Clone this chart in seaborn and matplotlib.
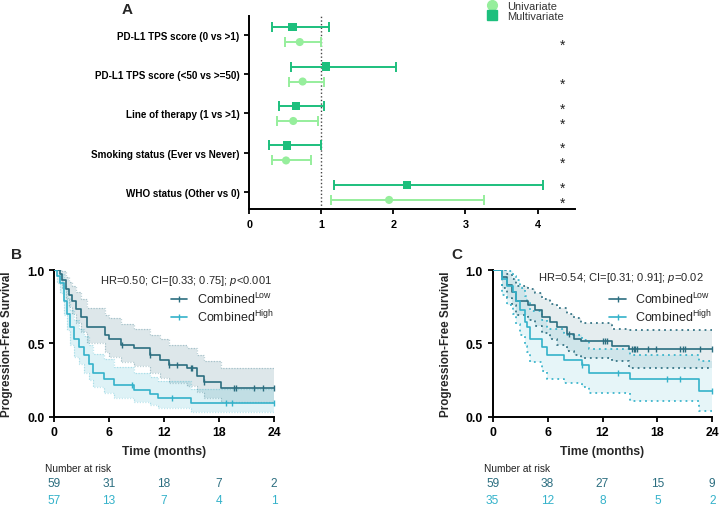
import numpy as np
import pandas as pd
import matplotlib
matplotlib.use("Agg")
import matplotlib.pyplot as plt
import matplotlib.transforms as mtransforms
from matplotlib.lines import Line2D
import seaborn as sns

# ── Panel A: forest plot data ────────────────────────────────────────────────
factors = [
    "PD-L1 TPS score (0 vs >1)",
    "PD-L1 TPS score (<50 vs >=50)",
    "Line of therapy (1 vs >1)",
    "Smoking status (Ever vs Never)",
    "WHO status (Other vs 0)",
]
uni_hr = [0.70, 0.74, 0.61, 0.51, 1.94]
uni_lo = [0.50, 0.55, 0.39, 0.32, 1.14]
uni_hi = [1.00, 1.04, 0.96, 0.85, 3.26]
uni_sig = [True, True, True, True, True]
multi_hr = [0.60, 1.07, 0.65, 0.52, 2.19]
multi_lo = [0.32, 0.575, 0.41, 0.27, 1.18]
multi_hi = [1.11, 2.03, 1.04, 0.99, 4.08]
multi_sig = [False, False, True, True, True]

# ── Panel B: Kaplan-Meier ────────────────────────────────────────────────────
b_low_t = [0, 0.6, 0.9, 1.27, 1.64, 2.0, 2.36, 2.9, 3.6, 5.6, 6.0, 7.3, 8.7, 10.5, 11.6, 12.5, 14.5, 15.6, 16.4, 18.2, 24]
b_low_s = [1.0, 0.97, 0.93, 0.87, 0.83, 0.79, 0.735, 0.68, 0.61, 0.555, 0.53, 0.49, 0.465, 0.42, 0.385, 0.35, 0.33, 0.28, 0.235, 0.197, 0.197]
b_low_lo = [1.0, 0.93, 0.87, 0.80, 0.75, 0.70, 0.64, 0.58, 0.50, 0.44, 0.41, 0.37, 0.345, 0.30, 0.265, 0.23, 0.21, 0.17, 0.13, 0.10, 0.10]
b_low_hi = [1.0, 1.0, 0.99, 0.95, 0.92, 0.89, 0.85, 0.80, 0.74, 0.69, 0.67, 0.63, 0.60, 0.56, 0.53, 0.49, 0.47, 0.42, 0.38, 0.33, 0.33]
b_low_cens = [7.45, 10.5, 12.5, 13.45, 14.9, 15.1, 16.4, 19.6, 19.9, 21.8, 22.8, 24.0]

b_high_t = [0, 0.35, 0.65, 1.1, 1.45, 1.75, 2.2, 2.7, 3.3, 3.8, 4.3, 5.45, 6.5, 8.7, 10.5, 11.3, 14.9, 24]
b_high_s = [1.0, 0.96, 0.91, 0.79, 0.70, 0.61, 0.53, 0.475, 0.42, 0.36, 0.30, 0.26, 0.215, 0.18, 0.155, 0.125, 0.09, 0.09]
b_high_lo = [1.0, 0.91, 0.84, 0.69, 0.59, 0.49, 0.41, 0.36, 0.30, 0.25, 0.20, 0.16, 0.13, 0.10, 0.08, 0.06, 0.03, 0.03]
b_high_hi = [1.0, 1.0, 0.97, 0.89, 0.81, 0.73, 0.66, 0.60, 0.55, 0.49, 0.43, 0.39, 0.34, 0.30, 0.27, 0.24, 0.19, 0.19]
b_high_cens = [8.5, 12.9, 18.8, 19.4, 24.0]

b_risk_low = [59, 31, 18, 7, 2]
b_risk_high = [57, 13, 7, 4, 1]
b_stats = "HR=0.50; CI=[0.33; 0.75]; $\\mathit{p}$<0.001"

# ── Panel C: Kaplan-Meier ────────────────────────────────────────────────────
c_low_t = [0, 1.0, 1.56, 2.1, 2.5, 3.9, 4.66, 5.4, 6.3, 7.0, 8.1, 8.85, 9.6, 13.0, 14.9, 24]
c_low_s = [1.0, 0.95, 0.895, 0.85, 0.79, 0.76, 0.725, 0.68, 0.645, 0.61, 0.565, 0.53, 0.515, 0.485, 0.462, 0.462]
c_low_lo = [1.0, 0.88, 0.81, 0.76, 0.69, 0.66, 0.62, 0.57, 0.53, 0.49, 0.45, 0.42, 0.40, 0.38, 0.335, 0.335]
c_low_hi = [1.0, 1.0, 0.97, 0.94, 0.89, 0.87, 0.84, 0.80, 0.77, 0.74, 0.70, 0.67, 0.64, 0.60, 0.59, 0.59]
c_low_cens = [8.3, 12.1, 12.3, 12.5, 15.2, 15.4, 15.6, 15.8, 17.0, 17.9, 20.5, 20.8, 21.0, 22.7, 24.0]

c_high_t = [0, 1.0, 1.56, 2.2, 2.5, 3.0, 3.5, 3.75, 4.1, 5.4, 5.9, 7.75, 9.8, 10.5, 15.0, 22.5, 24]
c_high_s = [1.0, 0.94, 0.89, 0.85, 0.79, 0.725, 0.645, 0.61, 0.53, 0.475, 0.42, 0.385, 0.35, 0.30, 0.255, 0.175, 0.175]
c_high_lo = [1.0, 0.83, 0.76, 0.70, 0.63, 0.56, 0.48, 0.44, 0.37, 0.31, 0.26, 0.23, 0.20, 0.16, 0.11, 0.04, 0.04]
c_high_hi = [1.0, 1.0, 0.99, 0.96, 0.93, 0.88, 0.82, 0.79, 0.72, 0.66, 0.60, 0.56, 0.52, 0.46, 0.42, 0.38, 0.38]
c_high_cens = [9.8, 13.7, 19.1, 20.5, 24.0]

c_risk_low = [59, 38, 27, 15, 9]
c_risk_high = [35, 12, 8, 5, 2]
c_stats = "HR=0.54; CI=[0.31; 0.91]; $\\mathit{p}$=0.02"

time_ticks = [0, 6, 12, 18, 24]

# ── Style ────────────────────────────────────────────────────────────────────
UNI_C = "#96EE9C"
MULTI_C = "#1DBF7D"
LOW_C = "#2C6E80"
HIGH_C = "#34B2CA"

sns.set_theme(style="ticks")
plt.rcParams["font.family"] = ["Liberation Sans", "DejaVu Sans"]
plt.rcParams["mathtext.fontset"] = "custom"
plt.rcParams["mathtext.rm"] = "Liberation Sans"
plt.rcParams["mathtext.it"] = "Liberation Sans:italic"
plt.rcParams["mathtext.bf"] = "Liberation Sans:bold"
plt.rcParams["axes.linewidth"] = 1.4
plt.rcParams["axes.edgecolor"] = "black"
plt.rcParams["xtick.major.width"] = 1.3
plt.rcParams["ytick.major.width"] = 1.3
plt.rcParams["xtick.major.size"] = 3.5
plt.rcParams["ytick.major.size"] = 3.5
plt.rcParams["xtick.color"] = "black"
plt.rcParams["ytick.color"] = "black"

W, H = 719, 506
fig = plt.figure(figsize=(W / 100, H / 100), dpi=100)


def px_axes(x0, y0, x1, y1):
    return fig.add_axes([x0 / W, 1 - y1 / H, (x1 - x0) / W, (y1 - y0) / H])


def bold_ticks(ax, size):
    for lab in ax.get_xticklabels() + ax.get_yticklabels():
        lab.set_fontweight("bold")
        lab.set_fontsize(size)


# ── A. Forest plot ───────────────────────────────────────────────────────────
axA = px_axes(249.3, 17, 575, 210)
rows = np.arange(len(factors))
off = 0.19
df_a = pd.DataFrame({
    "hr": uni_hr + multi_hr,
    "lo": uni_lo + multi_lo,
    "hi": uni_hi + multi_hi,
    "sig": uni_sig + multi_sig,
    "model": ["Univariate"] * len(factors) + ["Multivariate"] * len(factors),
    "y": list(rows + off) + list(rows - off),
})
palette = {"Univariate": UNI_C, "Multivariate": MULTI_C}
for model, sub in df_a.groupby("model"):
    axA.errorbar(sub["hr"], sub["y"],
                 xerr=[sub["hr"] - sub["lo"], sub["hi"] - sub["hr"]],
                 fmt="none", ecolor=palette[model], elinewidth=1.4,
                 capsize=3.5, capthick=1.4, zorder=2)
sns.scatterplot(data=df_a, x="hr", y="y", hue="model", style="model",
                markers={"Univariate": "o", "Multivariate": "s"},
                palette=palette, s=34, linewidth=0, ax=axA, zorder=3,
                legend=False)
for _, r in df_a[df_a["sig"]].iterrows():
    axA.text(4.34, r["y"] + 0.06, "*", ha="center", va="center",
             fontsize=10, color="#222222")
axA.axvline(1, color="#444444", ls=(0, (1, 1.6)), lw=1.0, zorder=1)
axA.set_xlim(0, 4.52)
axA.set_ylim(4.42, -0.47)
axA.set_xticks([0, 1, 2, 3, 4])
axA.set_yticks(rows)
axA.set_yticklabels(factors)
axA.set_xlabel("")
axA.set_ylabel("")
sns.despine(ax=axA)
bold_ticks(axA, 7.1)
for lab in axA.get_xticklabels():
    lab.set_fontsize(7.8)
leg_handles = [
    Line2D([0], [0], ls="none", marker="o", color=UNI_C, markersize=7),
    Line2D([0], [0], ls="none", marker="s", color=MULTI_C, markersize=6.5),
]
legA = axA.legend(leg_handles, ["Univariate", "Multivariate"], loc="upper left",
                  bbox_to_anchor=(487 / W, 0.997), bbox_transform=fig.transFigure,
                  frameon=False, fontsize=7.9, handlelength=1.0, handletextpad=0.8,
                  labelspacing=0.0, borderpad=0, borderaxespad=0)
for txt in legA.get_texts():
    txt.set_color("#333333")
fig.text(127 / W, 1 - 10 / H, "A", fontsize=11, fontweight="bold",
         ha="center", va="center")


# ── B / C. Kaplan-Meier curves ───────────────────────────────────────────────
def step_value(times, surv, t):
    i = np.searchsorted(times, t, side="right") - 1
    return np.asarray(surv)[np.clip(i, 0, len(surv) - 1)]


def km_panel(ax, groups, stats, risks, dotted_edges, label, label_xy):
    for g in groups:
        color = g["color"]
        ax.fill_between(g["t"], g["lo"], g["hi"], step="post", color=color,
                        alpha=0.16 if not dotted_edges else 0.12, lw=0, zorder=1)
        if dotted_edges:
            edge_kw = dict(color=color, lw=1.3, ls=(0, (1, 2.2)), alpha=0.95)
        else:
            edge_kw = dict(color=color, lw=0.9, ls=(0, (1, 1.2)), alpha=0.3)
        ax.step(g["t"], g["lo"], where="post", zorder=2, **edge_kw)
        ax.step(g["t"], g["hi"], where="post", zorder=2, **edge_kw)
        df = pd.DataFrame({"t": g["t"], "s": g["s"]})
        sns.lineplot(data=df, x="t", y="s", drawstyle="steps-post",
                     estimator=None, color=color, lw=1.2, ax=ax, zorder=3)
        cy = step_value(g["t"], g["s"], np.asarray(g["cens"]))
        ax.plot(g["cens"], cy, ls="none", marker="|", markersize=4,
                markeredgewidth=1.0, color=color, zorder=4, clip_on=False)

    ax.set_xlim(0, 24)
    ax.set_ylim(0, 1)
    ax.set_xticks(time_ticks)
    ax.set_yticks([0, 0.5, 1.0])
    ax.set_yticklabels(["0.0", "0.5", "1.0"])
    ax.set_xlabel("Time (months)", fontsize=8.8, fontweight="bold")
    ax.set_ylabel("Progression-Free Survival", fontsize=8.4, fontweight="bold")
    ax.xaxis.set_label_coords(0.5, -0.19)
    ax.yaxis.set_label_coords(-0.186, 0.5)
    sns.despine(ax=ax)
    bold_ticks(ax, 8.8)

    ax.text(stats[1], stats[2], stats[0], transform=ax.transAxes,
            ha="right", va="center", fontsize=8)

    handles = [
        Line2D([0], [0], color=groups[0]["color"], lw=1.2, marker="|",
               markersize=4, markeredgewidth=1.0),
        Line2D([0], [0], color=groups[1]["color"], lw=1.2, marker="|",
               markersize=4, markeredgewidth=1.0),
    ]
    ax.legend(handles, ["Combined$^{\\mathrm{Low}}$", "Combined$^{\\mathrm{High}}$"],
              loc="upper left", bbox_to_anchor=(0.53, 0.855), frameon=False,
              fontsize=9.0, handlelength=1.35, handletextpad=0.75,
              labelspacing=0.1, borderpad=0, borderaxespad=0)

    trans = mtransforms.blended_transform_factory(ax.transData, ax.transAxes)
    ax.text(-1.0, -0.352, "Number at risk", transform=trans, ha="left",
            va="center", fontsize=7.3, color="#222222")
    for row, (vals, color) in enumerate(zip(risks, [groups[0]["color"], groups[1]["color"]])):
        for t, v in zip(time_ticks, vals):
            ax.text(t, -0.45 - 0.115 * row, str(v), transform=trans,
                    ha="center", va="center", fontsize=8.6, color=color)

    fig.text(label_xy[0] / W, 1 - label_xy[1] / H, label, fontsize=11,
             fontweight="bold", ha="center", va="center")


axB = px_axes(54, 271, 274, 417.7)
km_panel(
    axB,
    [dict(t=b_low_t, s=b_low_s, lo=b_low_lo, hi=b_low_hi, cens=b_low_cens, color=LOW_C),
     dict(t=b_high_t, s=b_high_s, lo=b_high_lo, hi=b_high_hi, cens=b_high_cens, color=HIGH_C)],
    (b_stats, 0.99, 0.93),
    [b_risk_low, b_risk_high],
    dotted_edges=False, label="B", label_xy=(17, 255),
)

axC = px_axes(492.7, 271, 712.3, 417.7)
km_panel(
    axC,
    [dict(t=c_low_t, s=c_low_s, lo=c_low_lo, hi=c_low_hi, cens=c_low_cens, color=LOW_C),
     dict(t=c_high_t, s=c_high_s, lo=c_high_lo, hi=c_high_hi, cens=c_high_cens, color=HIGH_C)],
    (c_stats, 0.96, 0.95),
    [c_risk_low, c_risk_high],
    dotted_edges=True, label="C", label_xy=(456.7, 255),
)

fig.savefig("out.png", dpi=100)
